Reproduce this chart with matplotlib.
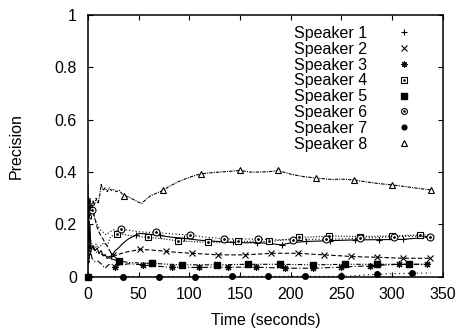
import numpy as np
import matplotlib
matplotlib.use("Agg")
import matplotlib.pyplot as plt
from matplotlib.ticker import FormatStrFormatter
from matplotlib.legend_handler import HandlerTuple

plt.rcParams['font.family'] = ['Liberation Sans', 'DejaVu Sans']

# Speaker 1 (+, solid)
t1 = [0, 1, 2, 3, 5, 7, 9, 11, 13, 15, 17, 19, 21, 23, 25, 27, 30, 35, 40, 45, 50, 55, 60, 71,
      81, 95, 110, 125, 140, 155, 167, 180, 191, 200, 215, 230, 245, 263, 287, 311, 325, 335, 338]
p1 = [0.35, 0.12, 0.2, 0.1, 0.12, 0.1, 0.11, 0.09, 0.1, 0.08, 0.085, 0.07, 0.075, 0.08, 0.09, 0.1,
      0.11, 0.13, 0.145, 0.155, 0.165, 0.165, 0.163, 0.158, 0.152, 0.147, 0.14, 0.136, 0.132, 0.13,
      0.131, 0.127, 0.122, 0.13, 0.135, 0.137, 0.139, 0.141, 0.142, 0.143, 0.148, 0.154, 0.155]
m1_t = [23, 47, 71, 95, 119, 143, 167, 191, 215, 239, 263, 287, 311, 335]
m1_p = [0.08, 0.16, 0.158, 0.147, 0.137, 0.132, 0.131, 0.122, 0.135, 0.138, 0.141, 0.142, 0.143, 0.154]

# Speaker 2 (x, dashed)
t2 = [0, 1, 2, 3, 5, 7, 9, 11, 14, 17, 20, 23, 25, 28, 32, 38, 45, 51, 60, 70, 77, 90, 103, 115,
      128.5, 140, 155, 168, 181, 195, 207, 220, 233, 246, 259, 272, 285, 298, 311, 324, 337]
p2 = [0.28, 0.15, 0.3, 0.22, 0.256, 0.22, 0.19, 0.17, 0.15, 0.13, 0.11, 0.09, 0.084, 0.082, 0.088,
      0.095, 0.1, 0.105, 0.103, 0.1, 0.097, 0.093, 0.09, 0.087, 0.084, 0.084, 0.084, 0.087, 0.09,
      0.09, 0.09, 0.087, 0.084, 0.081, 0.078, 0.076, 0.075, 0.073, 0.071, 0.071, 0.071]
m2_t = [25, 51, 77, 103, 128.5, 155, 181, 207, 233, 259, 285, 311, 337]
m2_p = [0.084, 0.105, 0.097, 0.09, 0.084, 0.084, 0.09, 0.09, 0.084, 0.078, 0.075, 0.071, 0.071]

# Speaker 3 (asterisk, dash-dot)
t3 = [0, 1, 2, 4, 7, 10, 13, 17, 20, 23, 26.6, 32, 40, 47, 54.5, 62, 70, 82.5, 95, 110, 125, 138,
      152, 166, 180, 194, 208, 222, 236, 250, 264, 278, 292, 306.7, 320, 334, 338]
p3 = [0.2, 0.05, 0.12, 0.07, 0.058, 0.06, 0.05, 0.033, 0.045, 0.05, 0.039, 0.045, 0.05, 0.048,
      0.046, 0.043, 0.04, 0.037, 0.036, 0.036, 0.037, 0.037, 0.037, 0.037, 0.035, 0.033, 0.033,
      0.033, 0.035, 0.037, 0.04, 0.042, 0.045, 0.048, 0.048, 0.048, 0.048]
m3_t = [26.6, 54.5, 82.5, 110, 138, 166, 194, 222, 250, 278, 306.7, 334]
m3_p = [0.039, 0.046, 0.037, 0.036, 0.037, 0.037, 0.033, 0.033, 0.037, 0.042, 0.048, 0.048]

# Speaker 4 (open square, dotted)
t4 = [0, 1, 2, 4, 6, 8, 10, 13, 16, 19, 22, 25, 29, 35, 45, 59, 75, 89, 105, 118.6, 135, 148, 165,
      179, 195, 208, 222, 237.6, 252, 268, 285, 299.5, 315, 327, 338]
p4 = [0.25, 0.1, 0.15, 0.12, 0.1, 0.125, 0.11, 0.12, 0.13, 0.12, 0.15, 0.16, 0.164, 0.162, 0.155,
      0.151, 0.145, 0.137, 0.134, 0.132, 0.133, 0.135, 0.136, 0.135, 0.142, 0.151, 0.152, 0.156,
      0.155, 0.154, 0.155, 0.156, 0.158, 0.16, 0.16]
m4_t = [29, 59, 89, 118.6, 148, 179, 208, 237.6, 268, 299.5, 327]
m4_p = [0.164, 0.151, 0.137, 0.132, 0.135, 0.135, 0.151, 0.156, 0.154, 0.156, 0.16]

# Speaker 5 (filled square)
t5 = [0, 1, 2, 4, 7, 10, 14, 18, 22, 26, 31, 40, 50, 62.8, 75, 93, 110, 127, 140, 158, 175, 189,
      205, 222, 238, 253.5, 270, 285, 300, 317, 338]
p5 = [0, 0.15, 0.08, 0.12, 0.1, 0.09, 0.085, 0.08, 0.07, 0.065, 0.061, 0.055, 0.053, 0.052, 0.049,
      0.046, 0.046, 0.046, 0.047, 0.048, 0.048, 0.048, 0.047, 0.046, 0.047, 0.048, 0.048, 0.048,
      0.048, 0.048, 0.048]
m5_t = [0, 31, 62.8, 93, 127, 158, 189, 222, 253.5, 285, 317]
m5_p = [0, 0.061, 0.052, 0.046, 0.046, 0.048, 0.048, 0.046, 0.048, 0.048, 0.048]

# Speaker 6 (open circle)
t6 = [0, 1, 2, 3.6, 5, 7, 9, 12, 15, 18, 21, 25, 28, 32.5, 40, 50, 60, 67, 80, 90, 100.6, 115, 134,
      150, 168, 185, 202, 218, 235, 250, 268, 285, 302, 320, 337]
p6 = [0.3, 0.22, 0.27, 0.256, 0.24, 0.22, 0.2, 0.18, 0.17, 0.16, 0.17, 0.18, 0.175, 0.183, 0.178,
      0.172, 0.17, 0.17, 0.165, 0.162, 0.16, 0.152, 0.145, 0.145, 0.144, 0.142, 0.141, 0.143, 0.144,
      0.145, 0.147, 0.15, 0.154, 0.155, 0.154]
m6_t = [3.6, 32.5, 67, 100.6, 134, 168, 202, 235, 268, 302, 337]
m6_p = [0.256, 0.183, 0.17, 0.16, 0.145, 0.144, 0.141, 0.144, 0.147, 0.154, 0.154]

# Speaker 7 (filled circle)
t7 = [0, 35, 70, 106, 142, 178, 214, 250, 265, 285, 300, 320, 338]
p7 = [0, 0.001, 0.001, 0.001, 0.002, 0.002, 0.002, 0.002, 0.005, 0.01, 0.012, 0.014, 0.015]
m7_t = [35, 70, 106, 142, 178, 214, 250, 285, 320]
m7_p = [0.001, 0.001, 0.001, 0.002, 0.002, 0.002, 0.002, 0.01, 0.014]

# Speaker 8 (triangle)
t8 = [0, 1, 2, 3, 4, 5, 6, 8, 10, 12, 13, 15, 17, 19, 21, 23, 25, 28, 31, 34, 36, 40, 45, 50, 53,
      57, 62, 68, 74, 80, 90, 100, 111, 120, 130, 140, 150, 160, 170, 180, 187, 200, 212, 225, 240,
      250, 262, 275, 287, 300, 312, 325, 338]
p8 = [0.2, 0.3, 0.25, 0.28, 0.26, 0.29, 0.27, 0.3, 0.28, 0.32, 0.355, 0.33, 0.34, 0.325, 0.34,
      0.33, 0.335, 0.325, 0.33, 0.315, 0.31, 0.305, 0.295, 0.285, 0.28, 0.295, 0.31, 0.32, 0.33,
      0.345, 0.365, 0.38, 0.393, 0.397, 0.4, 0.403, 0.406, 0.4, 0.4, 0.402, 0.406, 0.392, 0.383,
      0.377, 0.372, 0.373, 0.37, 0.362, 0.356, 0.351, 0.345, 0.338, 0.332]
m8_t = [36, 74, 111, 150, 187, 225, 262, 300, 338]
m8_p = [0.31, 0.33, 0.393, 0.406, 0.406, 0.377, 0.37, 0.351, 0.332]

labels = ['Speaker %d' % i for i in range(1, 9)]

fig = plt.figure(figsize=(4.58, 3.30), dpi=100)
ax = fig.add_axes([0.192, 0.161, 0.775, 0.794])

lw = 0.8
styles = [
    (t1, p1, m1_t, m1_p, '-', dict(marker='+', ms=5, mew=0.8)),
    (t2, p2, m2_t, m2_p, (0, (4, 2)), dict(marker='x', ms=4.5, mew=0.8)),
    (t3, p3, m3_t, m3_p, (0, (5, 2, 1, 2)), dict(marker=(8, 2, 0), ms=5, mew=0.8)),
    (t4, p4, m4_t, m4_p, (0, (1, 1.5)), dict(marker='s', ms=4.5, mfc='white', mew=0.8)),
    (t5, p5, m5_t, m5_p, (0, (4, 1.5, 1, 1.5, 1, 1.5)), dict(marker='s', ms=5)),
    (t6, p6, m6_t, m6_p, (0, (1, 2)), dict(marker='o', ms=5, mfc='white', mew=0.8)),
    (t7, p7, m7_t, m7_p, (0, (1, 3)), dict(marker='o', ms=4)),
    (t8, p8, m8_t, m8_p, (0, (3, 1, 1, 1)), dict(marker='^', ms=5, mfc='white', mew=0.8)),
]

handles = []
for i, (t, p, mt, mp, ls, mk) in enumerate(styles):
    ax.plot(t, p, color='black', lw=lw, ls=ls)
    h, = ax.plot(mt, mp, color='black', ls='none', clip_on=False, **mk)
    if i in (3, 5):
        d, = ax.plot(mt, mp, color='black', ls='none', marker='o', ms=1.0, clip_on=False)
        handles.append((h, d))
    else:
        handles.append(h)

ax.set_xlim(0, 350)
ax.set_ylim(0, 1)
ax.set_xticks(np.arange(0, 351, 50))
ax.set_yticks(np.arange(0, 1.01, 0.2))
ax.yaxis.set_major_formatter(FormatStrFormatter('%g'))
ax.tick_params(direction='in', length=3.5, width=0.8, top=True, right=True,
               labelsize=11.5, colors='black')
ax.tick_params(axis='y', pad=8)
ax.tick_params(axis='x', pad=7)
for s in ax.spines.values():
    s.set_linewidth(1.1)

ax.set_xlabel('Time (seconds)', fontsize=11.5, labelpad=8)
ax.set_ylabel('Precision', fontsize=11.5, labelpad=22)

ax.legend(handles, labels, loc='upper right', frameon=False, markerfirst=False,
          fontsize=11.5, handlelength=1.0, handletextpad=1.8, labelspacing=0.05,
          borderaxespad=0.3, bbox_to_anchor=(0.945, 1.0), markerscale=0.85,
          handler_map={tuple: HandlerTuple(ndivide=1, pad=0)})

fig.savefig('out.png', dpi=100)
